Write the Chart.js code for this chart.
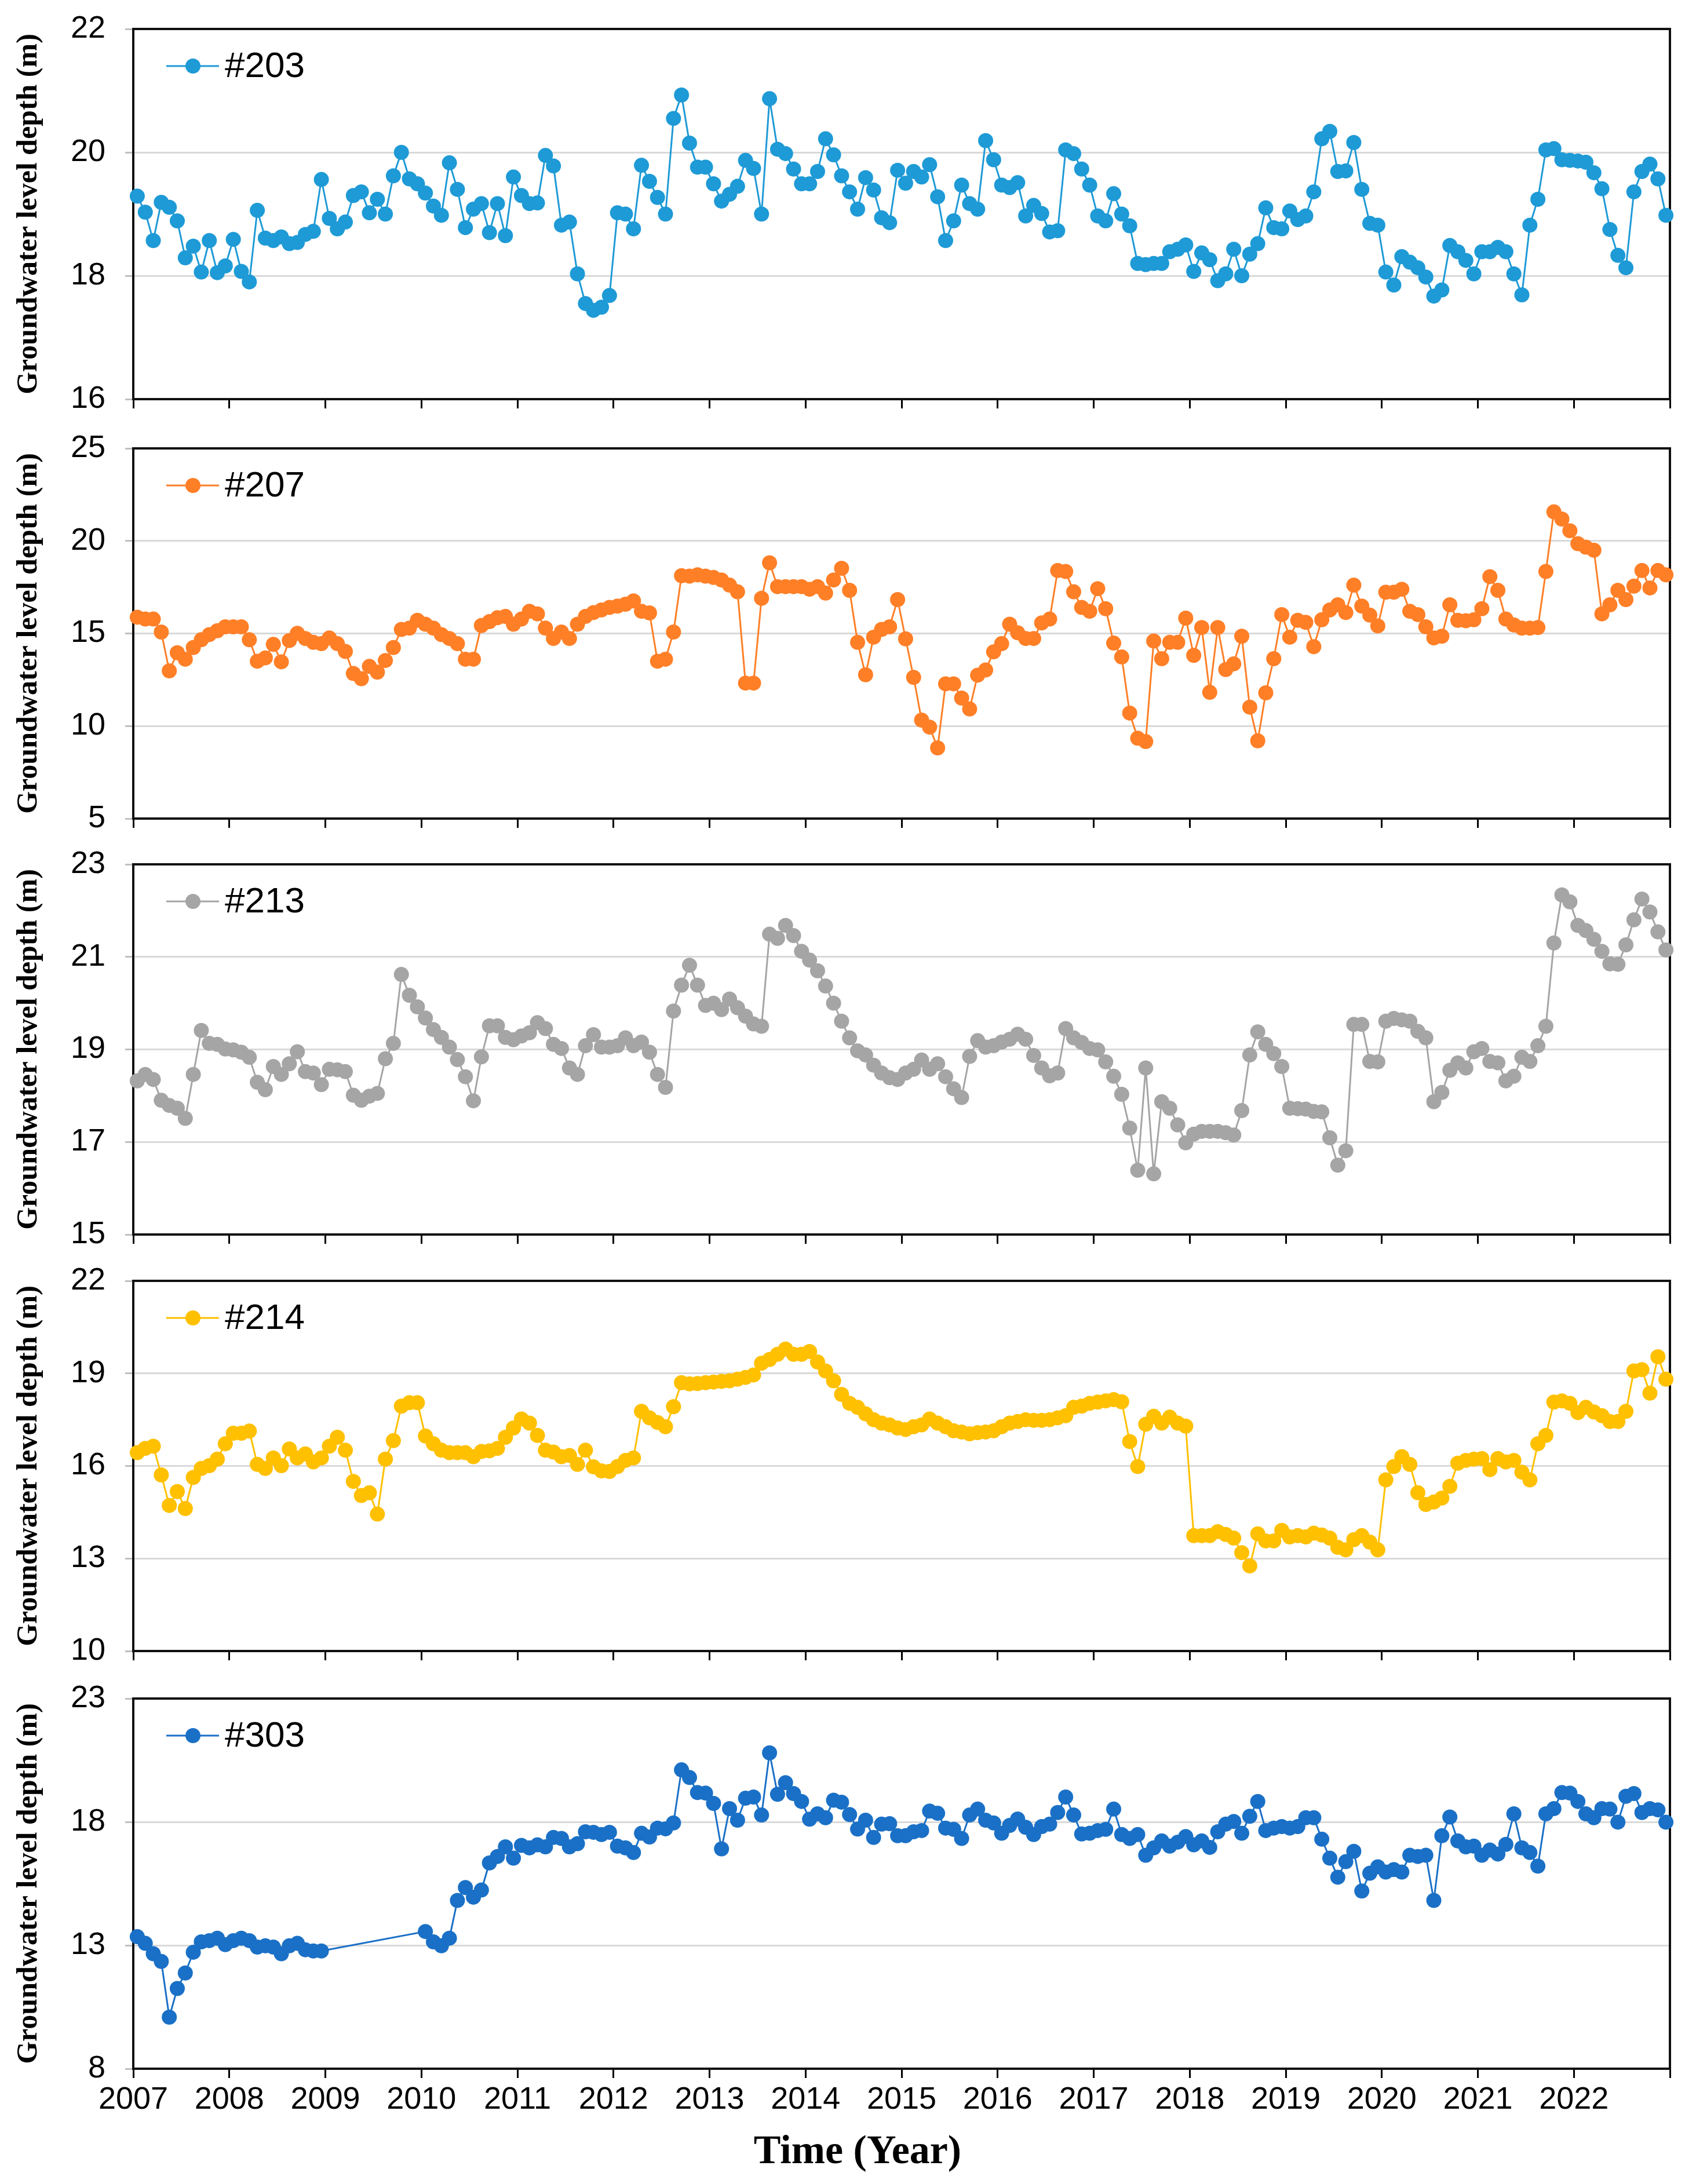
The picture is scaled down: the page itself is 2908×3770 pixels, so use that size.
<!DOCTYPE html>
<html>
<head>
<meta charset="utf-8">
<title>Groundwater level depth 2007-2022</title>
<script src="https://cdn.jsdelivr.net/npm/chart.js@4.4.1/dist/chart.umd.min.js"></script>
<style>
  html, body { margin: 0; padding: 0; background: #fff; }
  #wrap { position: relative; width: 2908px; height: 3770px; background: #fff; }
  #wrap canvas { position: absolute; left: 0; }
</style>
</head>
<body>
<div id="wrap"></div>
<script>
// monthly observations, Jan 2007 .. Dec 2022 (one value per month)
const startYear = 2007;
const yearTicks = [2007, 2008, 2009, 2010, 2011, 2012, 2013, 2014, 2015, 2016, 2017, 2018, 2019, 2020, 2021, 2022];

const w203 = [
  19.29, 19.03, 18.57, 19.19, 19.11, 18.89, 18.29, 18.48, 18.06, 18.57, 18.05, 18.16,
  18.59, 18.07, 17.90, 19.06, 18.61, 18.57, 18.63, 18.52, 18.54, 18.67, 18.72, 19.56,
  18.93, 18.76, 18.87, 19.30, 19.36, 19.02, 19.24, 19.00, 19.62, 20.00, 19.57, 19.49,
  19.34, 19.13, 18.98, 19.83, 19.40, 18.78, 19.08, 19.17, 18.70, 19.17, 18.65, 19.60,
  19.30, 19.17, 19.18, 19.95, 19.78, 18.82, 18.87, 18.03, 17.55, 17.44, 17.49, 17.68,
  19.02, 19.00, 18.76, 19.79, 19.53, 19.27, 19.00, 20.55, 20.93, 20.15, 19.76, 19.76,
  19.49, 19.21, 19.32, 19.45, 19.87, 19.74, 19.00, 20.87, 20.05, 19.98, 19.73, 19.49,
  19.49, 19.69, 20.22, 19.96, 19.62, 19.36, 19.08, 19.59, 19.39, 18.94, 18.86, 19.71,
  19.50, 19.69, 19.60, 19.80, 19.28, 18.57, 18.89, 19.47, 19.17, 19.08, 20.19, 19.88,
  19.47, 19.43, 19.51, 18.97, 19.14, 19.01, 18.71, 18.73, 20.04, 19.98, 19.73, 19.47,
  18.97, 18.89, 19.33, 19.00, 18.81, 18.20, 18.18, 18.20, 18.20, 18.39, 18.43, 18.50,
  18.07, 18.37, 18.26, 17.92, 18.03, 18.43, 18.00, 18.35, 18.52, 19.10, 18.78, 18.76,
  19.05, 18.91, 18.97, 19.36, 20.22, 20.34, 19.69, 19.70, 20.16, 19.40, 18.85, 18.82,
  18.06, 17.85, 18.31, 18.22, 18.13, 17.98, 17.67, 17.77, 18.49, 18.39, 18.25, 18.03,
  18.39, 18.39, 18.46, 18.39, 18.03, 17.69, 18.82, 19.24, 20.04, 20.06, 19.88, 19.87,
  19.86, 19.84, 19.67, 19.41, 18.75, 18.33, 18.13, 19.36, 19.69, 19.81, 19.57, 18.98
];

const w207 = [
  15.88, 15.78, 15.78, 15.08, 12.98, 13.96, 13.61, 14.24, 14.66, 14.94, 15.15, 15.36,
  15.36, 15.36, 14.66, 13.50, 13.68, 14.41, 13.47, 14.62, 15.01, 14.73, 14.52, 14.45,
  14.76, 14.45, 14.03, 12.84, 12.56, 13.22, 12.91, 13.54, 14.24, 15.22, 15.29, 15.71,
  15.50, 15.29, 14.94, 14.73, 14.45, 13.61, 13.61, 15.43, 15.64, 15.85, 15.92, 15.50,
  15.78, 16.20, 16.06, 15.29, 14.73, 15.08, 14.73, 15.50, 15.92, 16.13, 16.27, 16.41,
  16.48, 16.58, 16.76, 16.20, 16.11, 13.50, 13.61, 15.08, 18.12, 18.10, 18.17, 18.10,
  18.03, 17.89, 17.61, 17.25, 12.32, 12.32, 16.90, 18.82, 17.53, 17.53, 17.53, 17.53,
  17.39, 17.53, 17.18, 17.89, 18.52, 17.33, 14.52, 12.77, 14.80, 15.22, 15.36, 16.83,
  14.71, 12.63, 10.32, 9.94, 8.82, 12.28, 12.28, 11.51, 10.92, 12.75, 13.03, 14.01,
  14.45, 15.50, 15.04, 14.73, 14.73, 15.57, 15.78, 18.40, 18.35, 17.25, 16.41, 16.20,
  17.42, 16.34, 14.48, 13.73, 10.70, 9.34, 9.16, 14.59, 13.64, 14.52, 14.52, 15.83,
  13.82, 15.32, 11.82, 15.32, 13.05, 13.36, 14.85, 11.02, 9.20, 11.79, 13.64, 16.02,
  14.80, 15.71, 15.60, 14.29, 15.74, 16.27, 16.55, 16.13, 17.61, 16.48, 15.99, 15.41,
  17.23, 17.23, 17.39, 16.20, 16.02, 15.36, 14.76, 14.85, 16.55, 15.71, 15.69, 15.74,
  16.34, 18.07, 17.33, 15.78, 15.46, 15.29, 15.29, 15.32, 18.35, 21.57, 21.18, 20.55,
  19.85, 19.66, 19.50, 16.06, 16.55, 17.33, 16.83, 17.56, 18.40, 17.46, 18.40, 18.17
];

const w213 = [
  18.32, 18.46, 18.35, 17.90, 17.79, 17.73, 17.51, 18.46, 19.41, 19.13, 19.11, 19.01,
  18.99, 18.94, 18.83, 18.29, 18.13, 18.63, 18.46, 18.69, 18.95, 18.52, 18.49, 18.24,
  18.57, 18.56, 18.52, 18.01, 17.90, 17.99, 18.05, 18.80, 19.13, 20.62, 20.17, 19.92,
  19.68, 19.43, 19.26, 19.05, 18.78, 18.41, 17.89, 18.84, 19.51, 19.51, 19.26, 19.21,
  19.29, 19.36, 19.58, 19.45, 19.11, 19.02, 18.60, 18.46, 19.08, 19.32, 19.05, 19.05,
  19.08, 19.25, 19.08, 19.16, 18.94, 18.46, 18.18, 19.83, 20.39, 20.82, 20.39, 19.95,
  20.00, 19.86, 20.09, 19.90, 19.72, 19.55, 19.50, 21.49, 21.40, 21.68, 21.46, 21.12,
  20.93, 20.70, 20.37, 20.00, 19.61, 19.25, 18.97, 18.88, 18.66, 18.49, 18.39, 18.35,
  18.49, 18.57, 18.77, 18.57, 18.69, 18.41, 18.15, 17.96, 18.85, 19.19, 19.05, 19.08,
  19.16, 19.22, 19.33, 19.22, 18.87, 18.60, 18.43, 18.49, 19.45, 19.25, 19.15, 19.02,
  18.99, 18.73, 18.42, 18.03, 17.30, 16.39, 18.60, 16.31, 17.87, 17.73, 17.37, 16.98,
  17.17, 17.23, 17.23, 17.23, 17.20, 17.15, 17.68, 18.88, 19.38, 19.11, 18.91, 18.63,
  17.73, 17.72, 17.71, 17.66, 17.65, 17.09, 16.50, 16.81, 19.54, 19.54, 18.74, 18.73,
  19.61, 19.67, 19.64, 19.61, 19.39, 19.25, 17.87, 18.07, 18.55, 18.71, 18.60, 18.95,
  19.02, 18.74, 18.71, 18.32, 18.42, 18.83, 18.74, 19.08, 19.50, 21.30, 22.34, 22.19,
  21.68, 21.57, 21.38, 21.12, 20.85, 20.84, 21.26, 21.80, 22.25, 21.97, 21.54, 21.15
];

const w214 = [
  16.43, 16.57, 16.64, 15.71, 14.72, 15.17, 14.62, 15.63, 15.92, 16.01, 16.22, 16.72,
  17.06, 17.06, 17.13, 16.05, 15.92, 16.26, 16.01, 16.55, 16.26, 16.39, 16.13, 16.26,
  16.64, 16.93, 16.51, 15.50, 15.04, 15.13, 14.44, 16.22, 16.82, 17.94, 18.05, 18.05,
  16.97, 16.72, 16.51, 16.43, 16.43, 16.43, 16.30, 16.47, 16.49, 16.57, 16.93, 17.23,
  17.52, 17.39, 16.99, 16.51, 16.45, 16.30, 16.34, 16.05, 16.51, 15.97, 15.84, 15.82,
  15.98, 16.18, 16.26, 17.77, 17.56, 17.41, 17.27, 17.92, 18.70, 18.66, 18.67, 18.70,
  18.72, 18.74, 18.76, 18.81, 18.87, 18.95, 19.33, 19.45, 19.62, 19.79, 19.62, 19.62,
  19.71, 19.37, 19.08, 18.76, 18.32, 18.03, 17.90, 17.69, 17.50, 17.39, 17.33, 17.23,
  17.18, 17.27, 17.33, 17.52, 17.39, 17.27, 17.14, 17.10, 17.04, 17.08, 17.10, 17.14,
  17.27, 17.39, 17.44, 17.50, 17.48, 17.48, 17.50, 17.56, 17.63, 17.90, 17.94, 18.03,
  18.07, 18.11, 18.15, 18.08, 16.79, 15.98, 17.35, 17.61, 17.39, 17.58, 17.39, 17.29,
  13.74, 13.74, 13.74, 13.87, 13.78, 13.66, 13.19, 12.76, 13.80, 13.57, 13.57, 13.91,
  13.70, 13.74, 13.70, 13.82, 13.76, 13.66, 13.36, 13.28, 13.61, 13.74, 13.53, 13.28,
  15.55, 15.98, 16.30, 16.05, 15.13, 14.75, 14.83, 14.96, 15.34, 16.09, 16.18, 16.22,
  16.24, 15.88, 16.24, 16.13, 16.18, 15.80, 15.55, 16.72, 16.99, 18.07, 18.11, 18.03,
  17.73, 17.90, 17.75, 17.63, 17.44, 17.44, 17.77, 19.08, 19.12, 18.36, 19.54, 18.81
];

// #303 has no readings from Jan 2009 to Dec 2009
const w303 = [
  13.35, 13.08, 12.66, 12.35, 10.09, 11.25, 11.88, 12.72, 13.14, 13.19, 13.29, 13.03,
  13.19, 13.29, 13.19, 12.93, 12.98, 12.93, 12.66, 12.98, 13.08, 12.82, 12.77, 12.77,
  null, null, null, null, null, null, null, null, null, null, null, null,
  13.56, 13.14, 12.98, 13.29, 14.82, 15.34, 14.95, 15.24, 16.34, 16.60, 16.99, 16.53,
  17.05, 16.95, 17.07, 16.99, 17.37, 17.33, 16.99, 17.12, 17.60, 17.58, 17.49, 17.58,
  17.02, 16.95, 16.76, 17.54, 17.39, 17.75, 17.72, 17.96, 20.11, 19.80, 19.19, 19.17,
  18.75, 16.91, 18.54, 18.07, 18.96, 19.01, 18.28, 20.80, 19.12, 19.59, 19.15, 18.83,
  18.11, 18.33, 18.17, 18.88, 18.80, 18.30, 17.71, 18.07, 17.37, 17.91, 17.93, 17.44,
  17.44, 17.60, 17.65, 18.44, 18.35, 17.75, 17.70, 17.33, 18.28, 18.52, 18.07, 17.96,
  17.54, 17.86, 18.12, 17.78, 17.49, 17.81, 17.91, 18.38, 19.01, 18.28, 17.51, 17.54,
  17.65, 17.70, 18.52, 17.49, 17.33, 17.49, 16.65, 16.95, 17.23, 17.02, 17.18, 17.41,
  17.07, 17.23, 16.97, 17.60, 17.91, 18.02, 17.54, 18.23, 18.83, 17.65, 17.75, 17.81,
  17.75, 17.81, 18.17, 18.17, 17.30, 16.53, 15.76, 16.39, 16.81, 15.20, 15.92, 16.18,
  15.97, 16.07, 15.97, 16.65, 16.60, 16.65, 14.82, 17.44, 18.20, 17.23, 16.99, 17.02,
  16.65, 16.86, 16.70, 17.09, 18.33, 16.95, 16.76, 16.21, 18.33, 18.54, 19.19, 19.17,
  18.83, 18.33, 18.17, 18.54, 18.52, 17.99, 19.04, 19.15, 18.38, 18.54, 18.49, 17.99
];

const wellNames = ['#203', '#207', '#213', '#214', '#303'];
const wellSeries = [w203, w207, w213, w214, w303];
const wellColors = ['#1E9AD6', '#FF7F27', '#A5A5A5', '#FFC000', '#1A70C6'];
const yMins = [16, 5, 15, 10, 8];
const yMaxs = [22, 25, 23, 22, 23];
const ySteps = [2, 5, 2, 3, 5];

// page layout (pixels)
const pageW = 2908, pageH = 3770;
const plotLeft = 230, plotRight = 2882, plotH = 639;
const plotTops = [50, 774, 1492, 2211, 2932];
const padTop = 40;

const yTitle = 'Groundwater level depth (m)';
const xTitle = 'Time (Year)';

// black frame round the plot area
const framePlugin = {
  id: 'frame',
  beforeDatasetsDraw(chart) {
    const a = chart.chartArea, ctx = chart.ctx;
    ctx.save();
    ctx.strokeStyle = '#111';
    ctx.lineWidth = 4;
    ctx.strokeRect(a.left, a.top, a.right - a.left, a.bottom - a.top);
    ctx.restore();
  }
};

// legend entry in the top-left corner of the plot (line + marker + name)
const cornerLegend = {
  id: 'cornerLegend',
  afterDatasetsDraw(chart) {
    const ds = chart.data.datasets[0];
    const ctx = chart.ctx;
    const y = chart.chartArea.top + 64;
    ctx.save();
    ctx.strokeStyle = ds.borderColor;
    ctx.lineWidth = 3;
    ctx.beginPath();
    ctx.moveTo(287, y);
    ctx.lineTo(378, y);
    ctx.stroke();
    ctx.fillStyle = ds.backgroundColor;
    ctx.beginPath();
    ctx.arc(333, y, 13, 0, Math.PI * 2);
    ctx.fill();
    ctx.fillStyle = '#000';
    ctx.font = '62px "Liberation Sans", Arial, sans-serif';
    ctx.textBaseline = 'middle';
    ctx.fillText(ds.label, 388, y + 2);
    ctx.restore();
  }
};

// x-axis title of the bottom panel, set a bit left of the plot centre like the original
const timeTitle = {
  id: 'timeTitle',
  afterDraw(chart) {
    const ctx = chart.ctx;
    ctx.save();
    ctx.fillStyle = '#000';
    ctx.font = 'bold 70px "Liberation Serif", "Times New Roman", serif';
    ctx.textAlign = 'center';
    ctx.textBaseline = 'middle';
    ctx.fillText(xTitle, 1480, chart.height - 54);
    ctx.restore();
  }
};

// keep the plot area exactly where it is asked for: no label overflow padding
function noOverflow(s) {
  s.paddingTop = 0;
  s.paddingBottom = 0;
  s.paddingLeft = 0;
  s.paddingRight = 0;
}

const wrap = document.getElementById('wrap');

wellSeries.forEach(function (series, k) {
  const last = k === wellSeries.length - 1;
  const top = plotTops[k] - padTop;
  const height = last ? pageH - top : padTop + plotH + 40;
  const xAreaH = height - padTop - plotH;

  const canvas = document.createElement('canvas');
  canvas.width = pageW;
  canvas.height = height;
  canvas.style.top = top + 'px';
  canvas.style.width = pageW + 'px';
  canvas.style.height = height + 'px';
  wrap.appendChild(canvas);

  const points = series.map(function (v, i) {
    return { x: startYear + (i + 0.5) / 12, y: v };
  });

  new Chart(canvas.getContext('2d'), {
    type: 'line',
    data: {
      datasets: [{
        label: wellNames[k],
        data: points,
        borderColor: wellColors[k],
        backgroundColor: wellColors[k],
        borderWidth: 3,
        pointRadius: 13,
        pointHoverRadius: 13,
        pointBorderWidth: 0,
        tension: 0,
        spanGaps: true,
        clip: false
      }]
    },
    options: {
      responsive: false,
      animation: false,
      devicePixelRatio: 1,
      layout: { padding: { top: padTop, right: pageW - plotRight, left: 0, bottom: 0 } },
      plugins: {
        legend: { display: false },
        tooltip: { enabled: false }
      },
      scales: {
        x: {
          type: 'linear',
          min: startYear,
          max: yearTicks[yearTicks.length - 1] + 1,
          afterFit: function (s) { s.height = xAreaH; noOverflow(s); },
          afterBuildTicks: function (s) {
            s.ticks = yearTicks.concat([yearTicks[yearTicks.length - 1] + 1]).map(function (v) { return { value: v }; });
          },
          ticks: {
            display: last,
            autoSkip: false,
            maxRotation: 0,
            padding: 6,
            color: '#000',
            font: { family: '"Liberation Sans", Arial, sans-serif', size: 54 },
            callback: function (v) { return yearTicks.indexOf(v) >= 0 ? String(v) : ''; }
          },
          grid: {
            drawOnChartArea: false,
            drawTicks: true,
            tickLength: 16,
            tickWidth: 3,
            tickColor: '#000'
          },
          border: { display: false }
        },
        y: {
          min: yMins[k],
          max: yMaxs[k],
          afterFit: function (s) { s.width = plotLeft; noOverflow(s); },
          ticks: {
            stepSize: ySteps[k],
            padding: 34,
            color: '#000',
            font: { family: '"Liberation Sans", Arial, sans-serif', size: 54 }
          },
          grid: {
            color: '#D9D9D9',
            lineWidth: 3,
            tickLength: 14,
            tickColor: '#BFBFBF'
          },
          border: { display: false },
          title: {
            display: true,
            text: yTitle,
            color: '#000',
            font: { family: '"Liberation Serif", "Times New Roman", serif', size: 50, weight: 'bold' },
            padding: { top: 20, bottom: 0 }
          }
        }
      }
    },
    plugins: last ? [framePlugin, cornerLegend, timeTitle] : [framePlugin, cornerLegend]
  });
});
</script>
</body>
</html>
